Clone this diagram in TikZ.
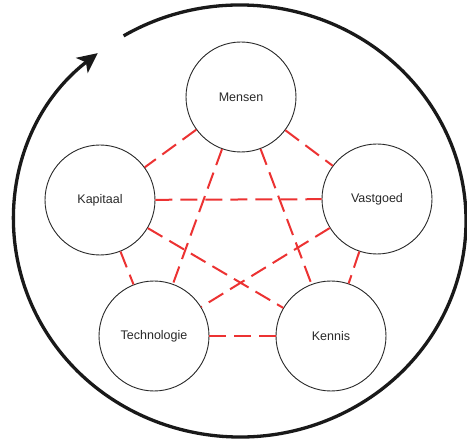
\documentclass[tikz,border=0pt]{standalone}
\usepackage{fontspec}
\setmainfont{Liberation Sans}
\usetikzlibrary{arrows.meta}
\definecolor{linkred}{RGB}{236,50,50}
\definecolor{inkgray}{RGB}{40,40,40}
\begin{document}
\begin{tikzpicture}[x=1pt,y=1pt,
  factor/.style={circle, draw=inkgray, line width=0.9pt, minimum size=110pt, inner sep=0pt,
    font=\fontsize{12.5}{14}\selectfont, text=inkgray},
  link/.style={draw=linkred, line width=2pt, dash pattern=on 17pt off 8pt},
  cycle/.style={draw=black!90, line width=3.3pt, -{Stealth[length=20pt,width=19pt,inset=5pt]}}]
\useasboundingbox (0,0) rectangle (467,440);

% the five factors
\node[factor] (mensen) at (241,343) {Mensen};
\node[factor] (kapitaal) at (100,240) {Kapitaal};
\node[factor] (vastgoed) at (377,241) {Vastgoed};
\node[factor] (techno) at (154,104) {Technologie};
\node[factor] (kennis) at (331,104) {Kennis};

% every factor linked to every other one
\foreach \a/\b in {mensen/kapitaal, mensen/vastgoed, mensen/techno, mensen/kennis,
                   kapitaal/vastgoed, kapitaal/techno, kapitaal/kennis,
                   vastgoed/techno, vastgoed/kennis, techno/kennis}
  \draw[link] (\a) -- (\b);

% surrounding cycle
\coordinate (hub) at (240,219);
\draw[cycle] ([shift={(121:226pt and 216pt)}]hub)
  arc[start angle=121, end angle=-231, x radius=226pt, y radius=216pt];
\end{tikzpicture}
\end{document}
